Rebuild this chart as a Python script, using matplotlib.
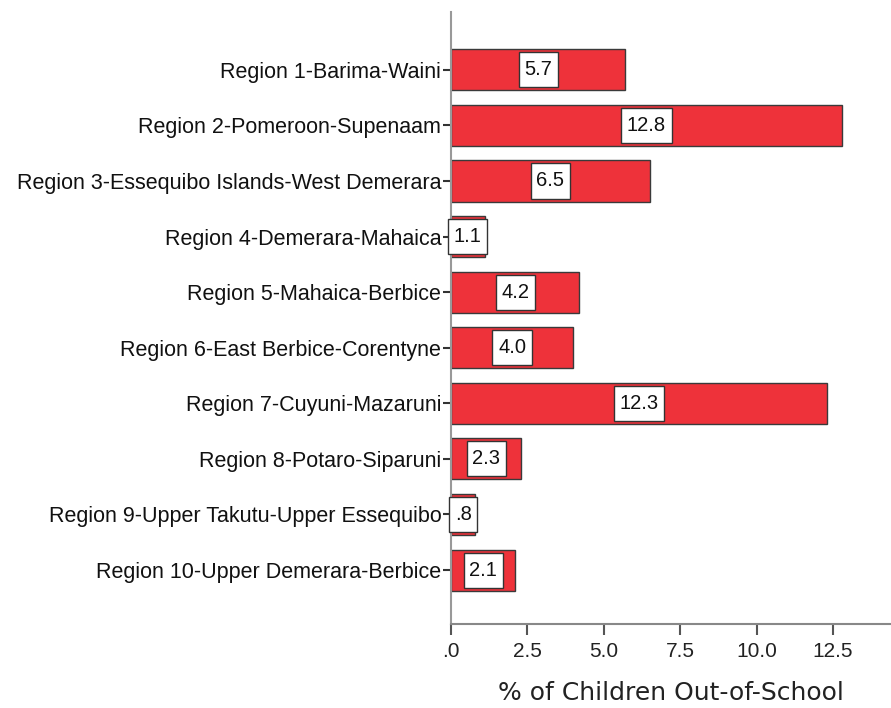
import matplotlib.pyplot as plt
from matplotlib.path import Path
from matplotlib.ticker import FuncFormatter

regions = [
    "Region 1-Barima-Waini",
    "Region 2-Pomeroon-Supenaam",
    "Region 3-Essequibo Islands-West Demerara",
    "Region 4-Demerara-Mahaica",
    "Region 5-Mahaica-Berbice",
    "Region 6-East Berbice-Corentyne",
    "Region 7-Cuyuni-Mazaruni",
    "Region 8-Potaro-Siparuni",
    "Region 9-Upper Takutu-Upper Essequibo",
    "Region 10-Upper Demerara-Berbice",
]
pct_out = [5.7, 12.8, 6.5, 1.1, 4.2, 4.0, 12.3, 2.3, 0.8, 2.1]
x_ticks = [0, 2.5, 5.0, 7.5, 10.0, 12.5]


def spss_fmt(v, pos=None):
    # SPSS drops the leading zero: 0.8 -> .8, 0 -> .0
    s = "%.1f" % v
    if s.startswith("0."):
        s = s[1:]
    return s


def tall_box(x0, y0, width, height, mutation_size):
    # label boxes are taller than they are padded sideways
    px = 0.28 * mutation_size
    py = 0.4 * mutation_size
    x0, y0 = x0 - px, y0 - py
    x1, y1 = x0 + width + 2 * px, y0 + height + 2 * py
    return Path([(x0, y0), (x1, y0), (x1, y1), (x0, y1), (x0, y0)], closed=True)


plt.rcParams['font.family'] = ['Liberation Sans', 'DejaVu Sans']

fig = plt.figure(figsize=(8.91, 7.08), dpi=100)
ax = fig.add_axes([451 / 891, 1 - 624 / 708, 1 - 451 / 891, (624 - 12) / 708])

pos = list(range(len(regions)))
ax.barh(pos, pct_out, height=0.74, color="#ee323a", edgecolor="#3a3a3a", linewidth=1.0, zorder=2)

for p, v in zip(pos, pct_out):
    ax.text(v / 2, p, spss_fmt(v), ha="center", va="center", fontsize=14.5, color="#111111", zorder=3,
            bbox=dict(boxstyle=tall_box, fc="white", ec="#333333", lw=1.0))

ax.set_ylim(9.97, -1.04)
ax.set_xlim(0, 14.4)
ax.set_yticks(pos)
ax.set_yticklabels(regions, fontsize=15.5, color="#111111")
ax.set_xticks(x_ticks)
ax.xaxis.set_major_formatter(FuncFormatter(spss_fmt))
ax.tick_params(axis="x", direction="out", length=8, width=1.5, color="#555555", labelsize=15,
               labelcolor="#222222", pad=5)
ax.tick_params(axis="y", direction="out", length=6, width=1.5, color="#333333", pad=1)

for s in ["top", "right"]:
    ax.spines[s].set_visible(False)
ax.spines["left"].set_color("#999999")
ax.spines["left"].set_linewidth(1.5)
ax.spines["bottom"].set_color("#888888")
ax.spines["bottom"].set_linewidth(1.5)

ax.set_xlabel("% of Children Out-of-School", fontsize=18, family="DejaVu Sans", color="#222222", labelpad=14)

fig.savefig("out.png", dpi=100)
